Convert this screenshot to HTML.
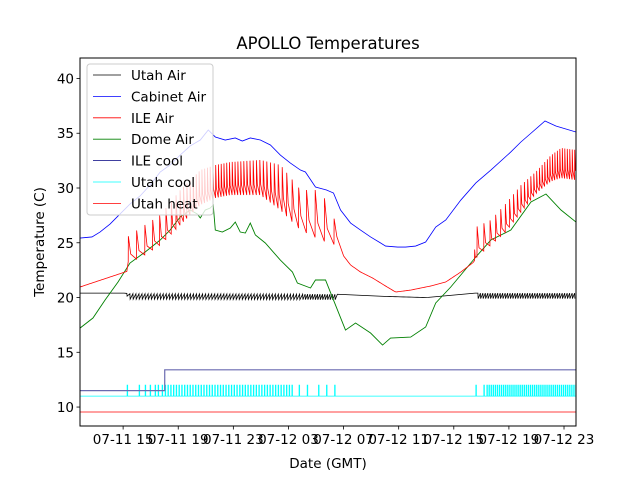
<!DOCTYPE html>
<html><head><meta charset="utf-8"><style>
body{margin:0;background:#fff;}
svg{font-family:"DejaVu Sans","Liberation Sans",sans-serif;}
</style></head><body>
<svg id="chart" width="640" height="480" viewBox="0 0 640 480">
<rect width="640" height="480" fill="#fff"/>
<text x="328" y="49" text-anchor="middle" font-size="16.5">APOLLO Temperatures</text>
<g id="plot"></g>
<g id="axes"></g>
<text x="328" y="468" text-anchor="middle" font-size="13.5">Date (GMT)</text>
<text transform="translate(44,242) rotate(-90)" text-anchor="middle" font-size="13.5">Temperature (C)</text>
<g id="legend"></g>
</svg>
<script>
// hours since 07-11 00:00 GMT
const xTickHours=[15,19,23,27,31,35,39,43,47];
const xTickLabels=["07-11 15","07-11 19","07-11 23","07-12 03","07-12 07","07-12 11","07-12 15","07-12 19","07-12 23"];
const yTickValues=[10,15,20,25,30,35,40];
const cabinetAirH=[11.87,12.74,13.32,14.05,14.78,15.50,16.23,16.96,17.69,18.41,19.14,19.87,20.60,21.18,21.69,22.41,23.14,23.65,24.23,24.96,25.69,26.41,27.14,27.87,28.23,28.96,29.76,30.27,30.78,31.51,32.23,32.96,33.69,34.05,34.92,35.50,36.23,36.96,37.69,38.42,39.51,40.60,41.69,43.14,43.87,44.60,45.62,46.41,47.87];
const cabinetAirT=[25.43,25.53,25.98,26.71,27.63,28.54,29.27,30.27,31.46,32.10,33.01,33.84,34.38,35.30,34.66,34.38,34.57,34.29,34.57,34.38,33.93,33.01,32.28,31.64,31.46,30.09,29.82,29.54,27.99,26.80,26.16,25.53,24.98,24.70,24.61,24.61,24.70,25.07,26.44,27.08,28.90,30.46,31.64,33.29,34.2,35.0,36.12,35.66,35.11];
const domeAirH=[11.87,12.81,13.69,14.63,15.50,16.60,17.69,18.41,19.14,19.87,20.38,20.60,20.96,21.32,21.54,21.69,22.20,22.78,23.14,23.50,23.87,24.23,24.60,25.32,26.41,27.29,27.65,28.60,28.96,29.69,30.27,31.14,31.87,32.96,33.83,34.41,35.87,36.96,37.69,38.78,40.60,41.69,43.14,44.60,45.69,46.78,47.87];
const domeAirT=[17.21,18.13,19.77,21.42,23.15,24.16,25.25,26.16,27.35,27.99,27.63,27.26,27.99,28.17,28.45,26.16,25.98,26.35,26.89,25.98,25.89,26.80,25.71,24.98,23.42,22.33,21.32,20.87,21.60,21.60,19.77,17.03,17.67,16.76,15.66,16.30,16.39,17.31,19.50,20.96,23.70,25.25,26.16,28.72,29.45,27.99,26.89];
const ileAirH=[11.87,15.14,15.28,15.29,16.23,17.69,19.14,20.60,21.69,22.78,24.96,26.41,27.87,29.32,30.42,30.49,30.78,31.51,32.23,33.11,34.05,34.78,35.87,37.32,38.42,39.51,40.45,40.60,41.69,42.78,43.87,44.96,46.05,46.78,47.87];
const ileAirLow=[20.96,22.33,22.4,23.24,23.61,24.79,26.62,28.45,29.09,29.36,29.36,27.99,26.16,25.25,24.79,24.5,24.16,22.97,22.33,21.78,21.05,20.50,20.68,21.05,21.42,22.33,23.24,23.61,24.79,26.0,27.8,29.5,30.6,30.91,30.73];
const ileAirHigh=[20.96,22.33,22.4,25.53,26.35,27.53,29.82,31.64,32.10,32.37,32.56,32.10,29.82,29.82,26.89,24.5,24.16,22.97,22.33,21.78,21.05,20.50,20.68,21.05,21.42,22.33,23.24,26.44,27.08,28.6,30.27,31.5,33.0,33.65,33.47];
const ileAirPeriod=[0,0,0,0.6,0.6,0.45,0.25,0.2,0.2,0.2,0.25,0.3,0.6,0.7,0.7,0,0,0,0,0,0,0,0,0,0,0,0,0.5,0.4,0.3,0.25,0.2,0.18,0.18,0.18];
const utahAirH=[11.87,15.25,15.29,30.42,30.5,34.0,37.0,40.55,40.6,47.87];
const utahAirT=[20.4,20.4,20.35,20.3,20.3,20.1,20.0,20.4,20.4,20.4];
const utahAirDip=[0,0,0.5,0.5,0,0,0,0,0.5,0.5];
const ileCoolH=[11.87,18.02,18.02,47.87];
const ileCoolT=[11.5,11.5,13.4,13.4];
const utahCoolBase=11.0, utahCoolOn=12.0;
const utahCoolPulses=[15.29,16.16,16.6,16.96,17.32,17.54,17.83,27.77,28.36,29.18,29.76,30.35,40.6,41.18];
const utahCoolDenseStart=[18.05,41.4], utahCoolDenseEnd=[27.3,47.87], utahCoolDensePeriod=[0.2,0.15];
const utahHeatT=9.55;
const legendNames=["Utah Air","Cabinet Air","ILE Air","Dome Air","ILE cool","Utah cool","Utah heat"];
const legendColors=["#000000","#0000ff","#ff0000","#008000","#000080","#00ffff","#ff0000"];

const X0=80,X1=576,Y0=58,Y1=426,H0=11.87,H1=47.87,T0=8.27,T1=41.87;
function xs(h){return X0+(h-H0)/(H1-H0)*(X1-X0);}
function ys(t){return Y1-(t-T0)/(T1-T0)*(Y1-Y0);}
const NS="http://www.w3.org/2000/svg";
const plot=document.getElementById('plot'),axes=document.getElementById('axes'),legend=document.getElementById('legend');
function path(parent,d,color,name,w){const p=document.createElementNS(NS,'path');p.setAttribute('d',d);p.setAttribute('fill','none');p.setAttribute('stroke',color);p.setAttribute('stroke-width',w||0.8);


parent.appendChild(p);return p;}
function interp(H,V,h){for(let i=1;i<H.length;i++){if(h<=H[i]){const f=(h-H[i-1])/((H[i]-H[i-1])||1);return V[i-1]+f*(V[i]-V[i-1]);}}return V[V.length-1];}
function lineD(H,V){return H.map((h,i)=>(i?'L':'M')+xs(h).toFixed(2)+' '+ys(V[i]).toFixed(2)).join(' ');}
const defs=document.createElementNS(NS,'defs');defs.innerHTML='<clipPath id="cp"><rect x="80" y="58" width="496" height="368"/></clipPath>';document.getElementById('chart').appendChild(defs);
plot.setAttribute('clip-path','url(#cp)');
// Utah heat
path(plot,'M'+X0+' '+ys(utahHeatT)+' L'+X1+' '+ys(utahHeatT),'#ff0000','utah-heat-line');
// Utah cool
(function(){let d='M'+xs(H0)+' '+ys(utahCoolBase);const ev=[];utahCoolPulses.forEach(p=>ev.push(p));
for(let k=0;k<utahCoolDenseStart.length;k++){for(let h=utahCoolDenseStart[k];h<utahCoolDenseEnd[k];h+=utahCoolDensePeriod[k])ev.push(h);}
ev.sort((a,b)=>a-b);ev.forEach(h=>{const x=xs(h),x2=xs(h+0.04);d+=' L'+x.toFixed(2)+' '+ys(utahCoolBase)+' L'+x.toFixed(2)+' '+ys(utahCoolOn)+' L'+x2.toFixed(2)+' '+ys(utahCoolOn)+' L'+x2.toFixed(2)+' '+ys(utahCoolBase);});
d+=' L'+xs(H1)+' '+ys(utahCoolBase);path(plot,d,'#00ffff','utah-cool-line');})();
// ILE cool
path(plot,lineD(ileCoolH,ileCoolT),'#6a6ab0','ile-cool-line',1.2);
// Utah air
(function(){let d='';let h=H0;while(h<=H1){const t=interp(utahAirH,utahAirT,h),dip=interp(utahAirH,utahAirDip,h);
if(dip>0.1){const per=h<28?0.22:0.18;d+=(d?'L':'M')+xs(h).toFixed(2)+' '+ys(t).toFixed(2)+' L'+xs(h+0.02).toFixed(2)+' '+ys(t-dip).toFixed(2)+' ';h+=per;}
else{d+=(d?'L':'M')+xs(h).toFixed(2)+' '+ys(t).toFixed(2)+' ';h+=0.2;}}
path(plot,d,'#000000','utah-air-line');})();
// Dome air
path(plot,lineD(domeAirH,domeAirT),'#008000','dome-air-line',0.9);
// ILE air
(function(){let d='';let h=H0;while(h<=H1){const lo=interp(ileAirH,ileAirLow,h),hi=interp(ileAirH,ileAirHigh,h),per=interp(ileAirH,ileAirPeriod,h);
if(hi-lo>0.5&&per>0.05){d+=(d?'L':'M')+xs(h).toFixed(2)+' '+ys(lo).toFixed(2)+' L'+xs(h+0.01).toFixed(2)+' '+ys(hi).toFixed(2)+' L'+xs(h+per*0.3).toFixed(2)+' '+ys(lo+(hi-lo)*0.3).toFixed(2)+' ';h+=per;}
else{d+=(d?'L':'M')+xs(h).toFixed(2)+' '+ys(lo).toFixed(2)+' ';h+=0.1;}}
path(plot,d,'#ff0000','ile-air-line');})();
// Cabinet air
path(plot,lineD(cabinetAirH,cabinetAirT),'#0000ff','cabinet-air-line');
// axes frame
const fr=document.createElementNS(NS,'rect');fr.setAttribute('x',X0);fr.setAttribute('y',Y0);fr.setAttribute('width',X1-X0);fr.setAttribute('height',Y1-Y0);fr.setAttribute('fill','none');fr.setAttribute('stroke','#000');fr.setAttribute('stroke-width','1');


axes.appendChild(fr);
function txt(parent,x,y,s,anchor,name){const t=document.createElementNS(NS,'text');t.setAttribute('x',x);t.setAttribute('y',y);t.setAttribute('font-size','13.5');t.setAttribute('text-anchor',anchor);t.textContent=s;


parent.appendChild(t);}
yTickValues.forEach(v=>{const y=ys(v);path(axes,'M'+(X0-3.5)+' '+y+' L'+X0+' '+y,'#000','y-tick',0.8);txt(axes,X0-6,y+5,String(v),'end','y-tick-label');});
xTickHours.forEach((h,i)=>{const x=xs(h);path(axes,'M'+x+' '+Y1+' L'+x+' '+(Y1+3.5),'#000','x-tick',0.8);txt(axes,x,Y1+18,xTickLabels[i],'middle','x-tick-label');});
// legend
const lb=document.createElementNS(NS,'rect');lb.setAttribute('x',87);lb.setAttribute('y',64);lb.setAttribute('width',126);lb.setAttribute('height',151);lb.setAttribute('rx',3);lb.setAttribute('fill','rgba(255,255,255,0.8)');lb.setAttribute('stroke','#ccc');


legend.appendChild(lb);
legendNames.forEach((n,i)=>{const y=75+i*21.4;path(legend,'M93 '+y+' L121 '+y,legendColors[i],'legend-entry-line',0.8);txt(legend,131,y+5,n,'start','legend-entry');});
</script>
</body></html>
